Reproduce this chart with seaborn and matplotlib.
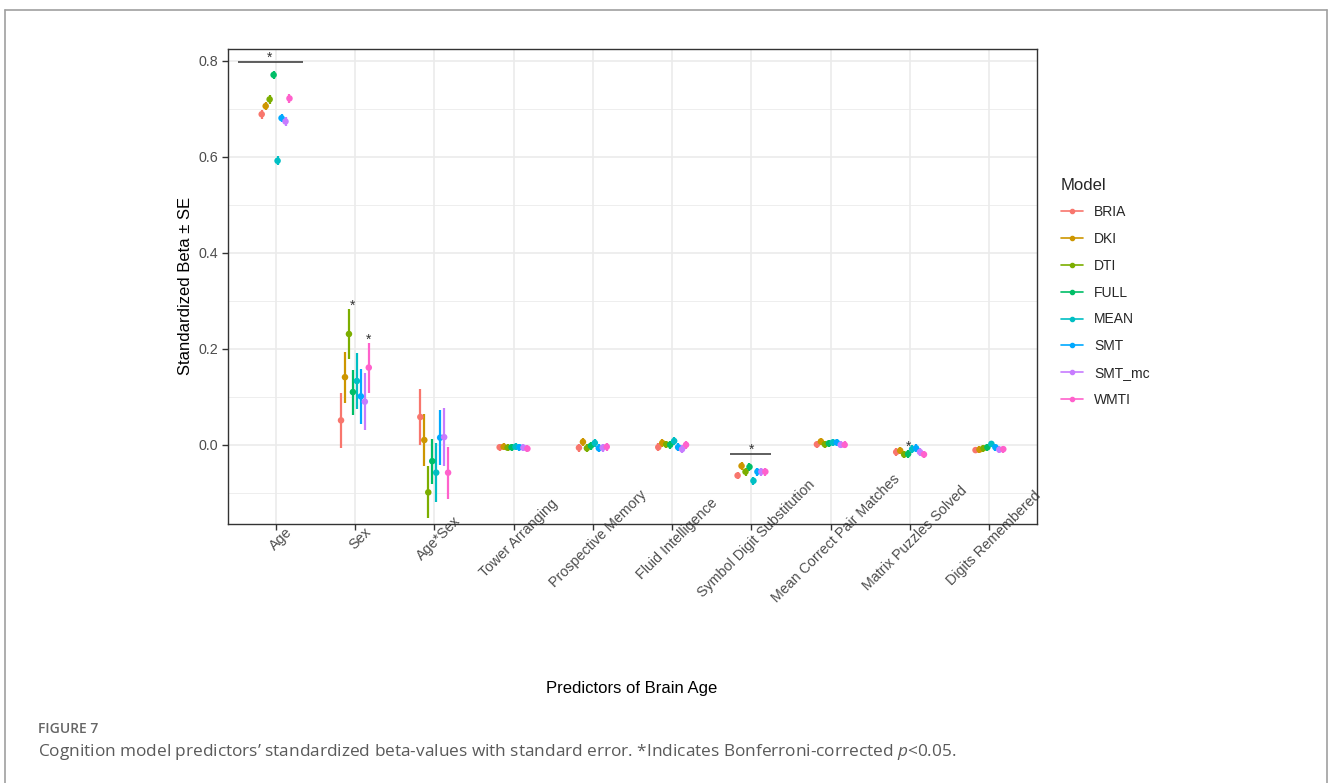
import matplotlib
matplotlib.use("Agg")
import matplotlib.pyplot as plt
from matplotlib.lines import Line2D
import seaborn as sns
import pandas as pd

# ---- data -------------------------------------------------------------
models = ["BRIA", "DKI", "DTI", "FULL", "MEAN", "SMT", "SMT_mc", "WMTI"]
model_colors = ["#F8766D", "#CD9600", "#7CAE00", "#00BE67",
                "#00BFC4", "#00A9FF", "#C77CFF", "#FF61CC"]

predictors = ["Age", "Sex", "Age*Sex", "Tower Arranging", "Prospective Memory",
              "Fluid Intelligence", "Symbol Digit Substitution",
              "Mean Correct Pair Matches", "Matrix Puzzles Solved",
              "Digits Remembered"]

# standardized betas, one list per predictor, in the order of `models`
beta_age = [0.689, 0.706, 0.720, 0.771, 0.592, 0.681, 0.674, 0.722]
beta_sex = [0.051, 0.141, 0.231, 0.110, 0.133, 0.101, 0.090, 0.161]
beta_age_sex = [0.058, 0.010, -0.099, -0.034, -0.058, 0.015, 0.016, -0.058]
beta_tower = [-0.005, -0.004, -0.006, -0.005, -0.004, -0.005, -0.006, -0.008]
beta_prospective = [-0.006, 0.006, -0.007, -0.002, 0.004, -0.007, -0.006, -0.004]
beta_fluid = [-0.005, 0.004, 0.001, 0.000, 0.008, -0.005, -0.009, 0.000]
beta_symbol = [-0.064, -0.044, -0.056, -0.046, -0.075, -0.056, -0.056, -0.056]
beta_pairs = [0.001, 0.007, 0.001, 0.003, 0.005, 0.005, 0.000, 0.000]
beta_matrix = [-0.015, -0.012, -0.020, -0.019, -0.009, -0.007, -0.015, -0.020]
beta_digits = [-0.011, -0.010, -0.007, -0.005, 0.002, -0.005, -0.010, -0.009]

# standard errors
se_age = [0.009, 0.009, 0.009, 0.008, 0.009, 0.009, 0.009, 0.009]
se_sex = [0.057, 0.053, 0.052, 0.047, 0.059, 0.057, 0.060, 0.052]
se_age_sex = [0.058, 0.054, 0.054, 0.047, 0.061, 0.057, 0.060, 0.054]
se_tower = [0.007] * 8
se_prospective = [0.008] * 8
se_fluid = [0.008] * 8
se_symbol = [0.008] * 8
se_pairs = [0.007] * 8
se_matrix = [0.008] * 8
se_digits = [0.007] * 8

betas = [beta_age, beta_sex, beta_age_sex, beta_tower, beta_prospective,
         beta_fluid, beta_symbol, beta_pairs, beta_matrix, beta_digits]
ses = [se_age, se_sex, se_age_sex, se_tower, se_prospective,
       se_fluid, se_symbol, se_pairs, se_matrix, se_digits]

# significance marks: (predictor, asterisk x-offset, asterisk y, bar span or None, bar y)
sig_marks = [
    ("Age", -0.075, 0.806, (-0.48, 0.35), 0.798),
    ("Sex", -0.025, 0.290, None, None),
    ("Sex", 0.175, 0.218, None, None),
    ("Symbol Digit Substitution", 0.0, -0.011, (-0.27, 0.25), -0.019),
    ("Matrix Puzzles Solved", -0.025, -0.004, None, None),
]

# ---- long table with dodged positions -----------------------------------
dodge_step = 0.05
rows = []
for i, pred in enumerate(predictors):
    for j, m in enumerate(models):
        rows.append({
            "predictor": pred,
            "model": m,
            "beta": betas[i][j],
            "se": ses[i][j],
            "xpos": i + (j - (len(models) - 1) / 2) * dodge_step,
        })
df = pd.DataFrame(rows)
df["lo"] = df["beta"] - df["se"]
df["hi"] = df["beta"] + df["se"]

# ---- figure -------------------------------------------------------------
sns.set_theme(style="white")
plt.rcParams["font.family"] = ["Liberation Sans", "DejaVu Sans"]
plt.rcParams["mathtext.fontset"] = "custom"
plt.rcParams["mathtext.it"] = "Open Sans:italic"
plt.rcParams["mathtext.rm"] = "Open Sans"

fig = plt.figure(figsize=(13.28, 7.83), dpi=100)
ax = fig.add_axes([228 / 1328, 1 - 524 / 783, 809 / 1328, 475 / 783])

palette = dict(zip(models, model_colors))

# gridlines (theme_bw look)
for yv in [-0.1, 0.1, 0.3, 0.5, 0.7]:
    ax.axhline(yv, color="#EBEBEB", lw=0.6, zorder=0)
for yv in [0.0, 0.2, 0.4, 0.6, 0.8]:
    ax.axhline(yv, color="#EBEBEB", lw=1.2, zorder=0)
for xv in range(len(predictors)):
    ax.axvline(xv, color="#EBEBEB", lw=1.2, zorder=0)

# error bars
for m in models:
    sub = df[df["model"] == m]
    ax.vlines(sub["xpos"], sub["lo"], sub["hi"], color=palette[m], lw=1.6, zorder=2)

# points
sns.scatterplot(data=df, x="xpos", y="beta", hue="model", palette=palette,
                hue_order=models, s=22, edgecolor="none", legend=False,
                zorder=3, ax=ax)

# significance annotations
for pred, dx, ystar, span, ybar in sig_marks:
    xc = predictors.index(pred)
    ax.text(xc + dx, ystar, "*", ha="center", va="center", fontsize=10,
            color="#333333", zorder=4)
    if span is not None:
        ax.plot([xc + span[0], xc + span[1]], [ybar, ybar], color="#333333",
                lw=1.1, zorder=4, solid_capstyle="butt")

ax.set_xlim(-0.6, len(predictors) - 1 + 0.6)
ax.set_ylim(-0.165, 0.825)
ax.set_yticks([0.0, 0.2, 0.4, 0.6, 0.8])
ax.set_yticklabels(["0.0", "0.2", "0.4", "0.6", "0.8"])
ax.set_xticks(range(len(predictors)))
ax.set_xticklabels(predictors, rotation=45, ha="center", va="top",
                   rotation_mode="anchor")

ax.tick_params(axis="both", which="major", length=4, width=1.0,
               color="#333333", labelcolor="#4D4D4D", labelsize=10.3, pad=3,
               bottom=True, left=True)
for sp in ax.spines.values():
    sp.set_color("#333333")
    sp.set_linewidth(1.0)

ax.set_xlabel("")
ax.set_ylabel("")
fig.text(632 / 1328, 1 - 688 / 783, "Predictors of Brain Age", ha="center",
         va="center", fontsize=12, color="black")
fig.text(186 / 1328, 1 - 286 / 783, "Standardized Beta \u00b1 SE", ha="center",
         va="center", rotation=90, fontsize=12, color="black")

# legend
handles = [Line2D([0], [0], color=c, lw=1.2, marker="o", markersize=3)
           for c in model_colors]
leg = fig.legend(handles, models, title="Model", loc="upper left",
                 bbox_to_anchor=(1055 / 1328, 1 - 172 / 783), frameon=False,
                 fontsize=10, title_fontsize=12, handlelength=1.6,
                 handletextpad=0.8, labelspacing=0.92, borderaxespad=0)
leg._legend_box.align = "left"

# outer frame of the figure panel
frame_kw = dict(color="#A0A0A0", lw=1.2, transform=fig.transFigure)
fig.add_artist(Line2D([4.5 / 1328, 1327 / 1328], [1 - 10 / 783, 1 - 10 / 783], **frame_kw))
fig.add_artist(Line2D([4.5 / 1328, 4.5 / 1328], [0, 1 - 10 / 783], **frame_kw))
fig.add_artist(Line2D([1327 / 1328, 1327 / 1328], [0, 1 - 10 / 783], **frame_kw))

# caption
fig.text(38 / 1328, 1 - 729 / 783, "FIGURE 7", ha="left", va="center",
         fontsize=10, color="#666666", family="Open Sans", weight="semibold")
fig.text(38 / 1328, 1 - 752 / 783,
         "Cognition model predictors\u2019 standardized beta-values with standard "
         "error. *Indicates Bonferroni-corrected $p$<0.05.",
         ha="left", va="center", fontsize=12.4, color="#5A5A5A", family="Open Sans")

fig.savefig("out.png", dpi=100)
